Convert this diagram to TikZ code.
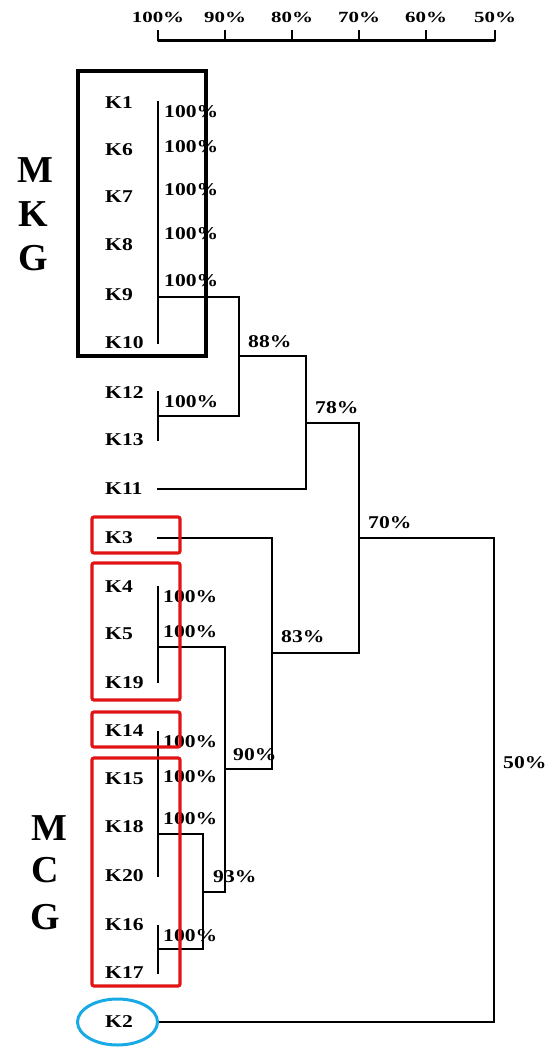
\documentclass[tikz,border=0pt]{standalone}
\usepackage{fontspec}
\usepackage{graphicx}
\setmainfont{Liberation Serif}
\definecolor{boxred}{RGB}{225,20,20}
\definecolor{boxblue}{RGB}{25,170,230}
\newcommand\stx[1]{\scalebox{1.2}[1]{#1}}
\newcommand\stt[1]{\scalebox{1.35}[1]{#1}}
\tikzset{
  leaf/.style={anchor=west,inner sep=0pt,font=\fontsize{18}{20}\selectfont\bfseries},
  pct/.style={anchor=west,inner sep=0pt,font=\fontsize{18}{20}\selectfont\bfseries},
  scalelab/.style={anchor=center,inner sep=0pt,font=\fontsize{15.5}{18}\selectfont\bfseries},
  big/.style={anchor=center,inner sep=0pt,font=\fontsize{38}{40}\selectfont\bfseries},
  tree/.style={line width=2.8pt,line cap=rect,line join=miter},
  scaleline/.style={line width=2.8pt,line join=round},
  groupbox/.style={line width=4pt},
  redbox/.style={draw=boxred,line width=3.2pt,rounded corners=2pt},
}
\begin{document}
\begin{tikzpicture}[x=1pt,y=-1pt]
\useasboundingbox (0,0) rectangle (550,1048);
% scale
\foreach \lab/\xx in {100/158,90/225,80/292,70/359,60/426,50/495}{
  \node[scalelab] (s\lab) at (\xx,17) {\stt{\lab\%}};
  \coordinate (t\lab) at (\xx,30);
  \coordinate (b\lab) at (\xx,40.5);
}
\draw[scaleline] (t100) -- (b100) -- (b50) -- (t50);
\foreach \lab in {90,80,70,60}{\draw[scaleline] (t\lab) -- (b\lab);}
% group letters
\node[big] (m1) at (35,170) {M};
\node[big] (k1) at (33,214) {K};
\node[big] (g1) at (33,258) {G};
\node[big] (m2) at (49,828) {M};
\node[big] (c2) at (45,870) {C};
\node[big] (g2) at (45,917) {G};
% leaf labels
\foreach \nm/\yy in {K1/103,K6/150,K7/197,K8/245,K9/295,K10/343,K12/393,K13/440,K11/489,K3/538,K4/587,K5/634,K19/683,K14/731,K15/779,K18/827,K20/876,K16/925,K17/973,K2/1022}{
  \node[leaf] (\nm) at (105,\yy) {\stx{\nm}};
}
% percent labels
\foreach \i/\xx/\yy in {1/164/112,2/164/147,3/164/190,4/164/234,5/164/281,6/164/402,7/163/597,8/163/632,9/163/742,10/163/777,11/163/819,12/163/936}{
  \node[pct] (p\i) at (\xx,\yy) {\stx{100\%}};
}
\node[pct] (p88) at (248,342) {\stx{88\%}};
\node[pct] (p78) at (315,408) {\stx{78\%}};
\node[pct] (p70) at (368,523) {\stx{70\%}};
\node[pct] (p83) at (281,637) {\stx{83\%}};
\node[pct] (p90) at (233,755) {\stx{90\%}};
\node[pct] (p93) at (213,877) {\stx{93\%}};
\node[pct] (p50) at (503,763) {\stx{50\%}};
% tree coordinates
\coordinate (aT) at (158,102); \coordinate (aB) at (158,343); \coordinate (aJ) at (158,297);
\coordinate (bT) at (158,392); \coordinate (bB) at (158,440); \coordinate (bJ) at (158,416);
\coordinate (cJ) at (158,489);
\coordinate (dJ) at (158,538);
\coordinate (eT) at (158,587); \coordinate (eB) at (158,682); \coordinate (eJ) at (158,647);
\coordinate (fT) at (158,732); \coordinate (fB) at (158,876); \coordinate (fJ) at (158,834);
\coordinate (gT) at (158,926); \coordinate (gB) at (158,973); \coordinate (gJ) at (158,949);
\coordinate (hJ) at (157,1022);
\coordinate (n88a) at (239,297); \coordinate (n88b) at (239,416); \coordinate (n88) at (239,356);
\coordinate (n78a) at (306,356); \coordinate (n78b) at (306,489); \coordinate (n78) at (306,423);
\coordinate (n70a) at (359,423); \coordinate (n70b) at (359,653); \coordinate (n70) at (359,538);
\coordinate (n83a) at (272,538); \coordinate (n83b) at (272,769); \coordinate (n83) at (272,653);
\coordinate (n90a) at (225,647); \coordinate (n90b) at (225,892); \coordinate (n90) at (225,769);
\coordinate (n93a) at (203,834); \coordinate (n93b) at (203,949); \coordinate (n93) at (203,892);
\coordinate (n50a) at (494,538); \coordinate (n50b) at (494,1022);
% tree
\draw[tree] (aT) -- (aB);
\draw[tree] (bT) -- (bB);
\draw[tree] (eT) -- (eB);
\draw[tree] (fT) -- (fB);
\draw[tree] (gT) -- (gB);
\draw[tree] (aJ) -- (n88a) -- (n88b) -- (bJ);
\draw[tree] (n88) -- (n78a) -- (n78b) -- (cJ);
\draw[tree] (n78) -- (n70a) -- (n70b) -- (n83);
\draw[tree] (dJ) -- (n83a) -- (n83b) -- (n90);
\draw[tree] (eJ) -- (n90a) -- (n90b) -- (n93);
\draw[tree] (fJ) -- (n93a) -- (n93b) -- (gJ);
\draw[tree] (n70) -- (n50a) -- (n50b) -- (hJ);
% group boxes
\draw[groupbox] (78,71) rectangle (206,356);
\draw[redbox] (92,517) rectangle (180,553);
\draw[redbox] (92,563) rectangle (180,700);
\draw[redbox] (92,712) rectangle (180,747);
\draw[redbox] (92,758) rectangle (180,986);
\draw[draw=boxblue,line width=3pt] (117.5,1022) ellipse [x radius=40,y radius=23];
\end{tikzpicture}
\end{document}
